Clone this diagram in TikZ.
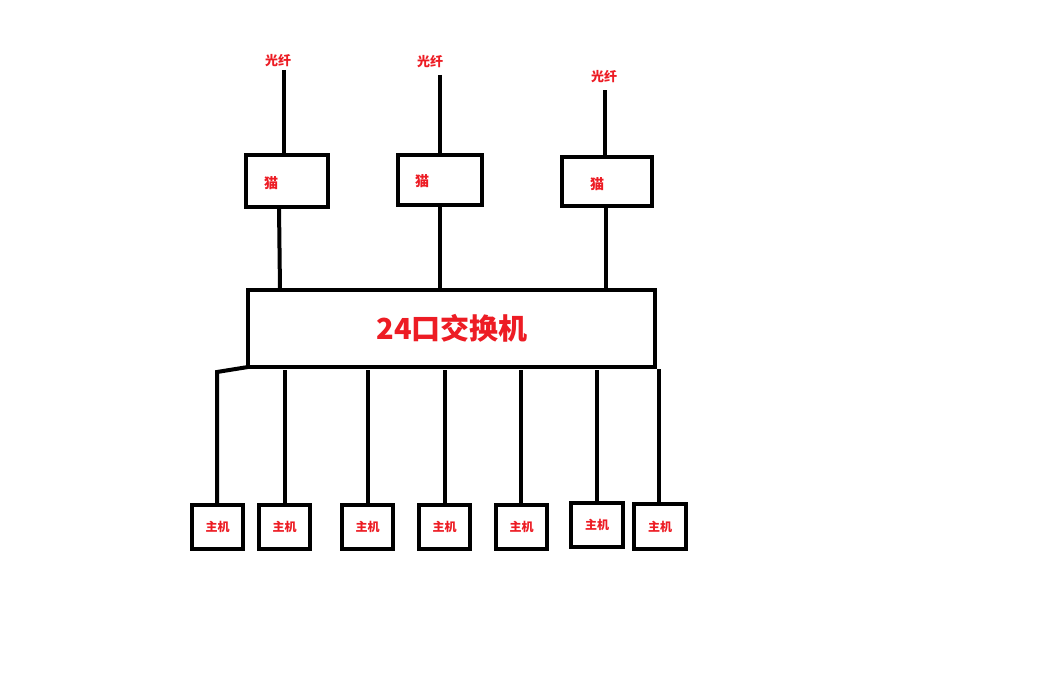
\documentclass[tikz,border=0pt]{standalone}
\usepackage{fontspec}
\newfontfamily\cjk{Noto Sans CJK SC}
\definecolor{pred}{RGB}{237,28,36}
\begin{document}
\begin{tikzpicture}[x=1pt,y=-1pt,
  ln/.style={line width=4pt},
  bx/.style={draw,line width=4pt},
  lbl/.style={text=pred,font=\cjk\bfseries\fontsize{13}{15}\selectfont,inner sep=0pt}]
\fill[white] (0,0) rectangle (1055,693);
\useasboundingbox (0,0) rectangle (1055,693);
% modems
\draw[bx] (246,155) rectangle (328,207);
\draw[bx] (398,155) rectangle (482,205);
\draw[bx] (562,157) rectangle (652,206);
\node[lbl,font=\cjk\bfseries\fontsize{14}{16}\selectfont] (m1) at (271,183) {猫};
\node[lbl,font=\cjk\bfseries\fontsize{14}{16}\selectfont] (m2) at (422,181) {猫};
\node[lbl,font=\cjk\bfseries\fontsize{14}{16}\selectfont] (m3) at (597,184) {猫};
% fibers
\node[lbl] (f1) at (278,61) {光纤};
\node[lbl] (f2) at (430,62) {光纤};
\node[lbl] (f3) at (604,77) {光纤};
\coordinate (f1e) at (284,157); \coordinate (f1s) at (284,70);
\coordinate (f2e) at (440,155); \coordinate (f2s) at (440,75);
\coordinate (f3e) at (605,157); \coordinate (f3s) at (605,90);
\draw[ln] (f1s) -- (f1e); \draw[ln] (f2s) -- (f2e); \draw[ln] (f3s) -- (f3e);
% switch
\draw[bx] (248,290) rectangle (655,367);
\node[text=pred,font=\cjk\bfseries\fontsize{29}{32}\selectfont] (sw) at (452,328) {24口交换机};
\draw[ln] (279,207) -- (280,290);
\draw[ln] (440,205) -- (440,290);
\draw[ln] (606,206) -- (606,290);
% hosts
\foreach \i/\a/\b/\c/\d in {1/192/505/243/549,2/259/505/310/549,3/342/505/393/549,4/419/505/470/549,5/496/505/547/549,6/571/503/623/547,7/634/504/686/549}{
  \draw[bx] (\a,\b) rectangle (\c,\d);
  \node[lbl,font=\cjk\bfseries\fontsize{12}{14}\selectfont] (h\i) at ({(\a+\c)/2},{(\b+\d)/2}) {主机};
}
\draw[ln] (248,367) -- (217,372) -- (217,505);
\draw[ln] (285,370) -- (285,505);
\draw[ln] (368,370) -- (368,505);
\draw[ln] (445,370) -- (445,505);
\draw[ln] (521,370) -- (521,505);
\draw[ln] (597,370) -- (597,503);
\draw[ln] (659,369) -- (659,504);
\end{tikzpicture}
\end{document}
